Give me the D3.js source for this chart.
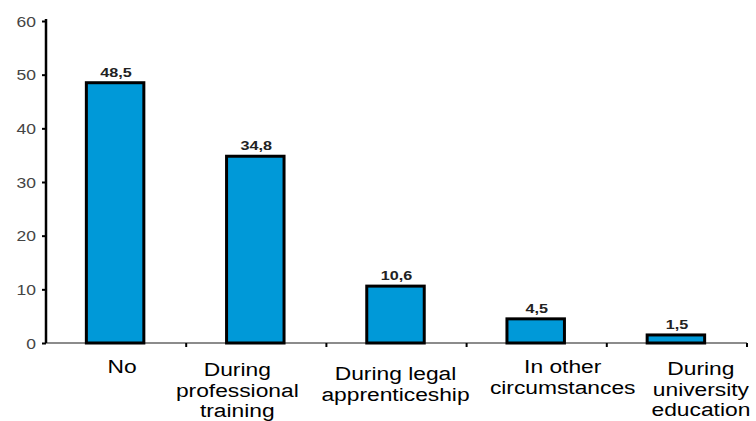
<!DOCTYPE html>
<html>
<head>
<meta charset="utf-8">
<script src="https://cdn.jsdelivr.net/npm/d3@7"></script>
<style>
  html, body { margin: 0; padding: 0; background: #fff; }
  svg { display: block; }
</style>
</head>
<body>
<svg id="chart" width="756" height="421"></svg>
<script>
// ---- data ----
const categories = ["No", "During professional training", "During legal apprenticeship", "In other circumstances", "During university education"];
const categoryLines = [
  ["No"],
  ["During", "professional", "training"],
  ["During legal", "apprenticeship"],
  ["In other", "circumstances"],
  ["During", "university", "education"]
];
const values = [48.5, 34.8, 10.6, 4.5, 1.5];
const yTicks = [0, 10, 20, 30, 40, 50, 60];

// ---- layout ----
const W = 756, H = 421;
const plotLeft = 46, plotRight = 747, yBottom = 343, yTop = 21;
const labelDx = [6, -19, -1, 26, 24];
const labelBase = [373, 376, 380, 373, 375];
const lineGap = 20.5;
const sx = 1.2; // horizontal stretch of the original picture's text

const svg = d3.select("#chart");

const x = d3.scaleBand().domain(categories).range([plotLeft, plotRight]).paddingInner(0).paddingOuter(0);
const y = d3.scaleLinear().domain([0, 60]).range([yBottom, yTop]);

const fmt = d3.formatLocale({decimal: ",", thousands: ".", grouping: [3], currency: ["", ""]}).format(".1f");

// baseline (category axis)
svg.append("line")
  .attr("x1", plotLeft).attr("x2", plotRight)
  .attr("y1", y(0)).attr("y2", y(0))
  .attr("stroke", "#666").attr("stroke-width", 1.5);

// category separator ticks
svg.selectAll("line.ctick")
  .data(categories)
  .join("line")
  .attr("class", "ctick")
  .attr("x1", d => x(d) + x.bandwidth())
  .attr("x2", d => x(d) + x.bandwidth())
  .attr("y1", y(0)).attr("y2", y(0) + 4)
  .attr("stroke", "#000").attr("stroke-width", 2);

// bars
const barFrac = 0.41;
svg.selectAll("rect.bar")
  .data(values)
  .join("rect")
  .attr("class", "bar")
  .attr("x", (d, i) => x(categories[i]) + x.bandwidth() * (0.5 - barFrac / 2) - 1)
  .attr("width", x.bandwidth() * barFrac)
  .attr("y", d => y(d))
  .attr("height", d => y(0) - y(d))
  .attr("fill", "#0099d8")
  .attr("stroke", "#000")
  .attr("stroke-width", 3);

// value labels
svg.selectAll("text.val")
  .data(values)
  .join("text")
  .attr("class", "val")
  .attr("transform", (d, i) => `translate(${x(categories[i]) + x.bandwidth() / 2},${y(d) - 6}) scale(${1.35},1)`)
  .attr("text-anchor", "middle")
  .attr("font-family", "Liberation Sans, Arial, sans-serif")
  .attr("font-weight", "bold")
  .attr("font-size", 12)
  .attr("fill", "#222")
  .text(d => fmt(d));

// y axis
const yAxis = d3.axisLeft(y).tickValues(yTicks).tickSize(4).tickPadding(7).tickFormat(d3.format("d"));
const gy = svg.append("g").attr("transform", `translate(${plotLeft},0)`).call(yAxis);
gy.select(".domain").attr("stroke", "#000").attr("stroke-width", 2.5)
  .attr("d", `M0,${yTop - 2}V${yBottom}`);
gy.selectAll(".tick line").attr("stroke", "#000").attr("stroke-width", 2);
gy.selectAll(".tick text")
  .attr("font-family", "Liberation Sans, Arial, sans-serif")
  .attr("font-size", 14)
  .attr("fill", "#444")
  .attr("dy", "0.36em")
  .each(function() {
    const t = d3.select(this);
    const xx = +t.attr("x");
    t.attr("x", null).attr("transform", `translate(${xx + 1},0) scale(1.25,1)`);
  });

// category labels
categoryLines.forEach((lines, i) => {
  const cx = x(categories[i]) + x.bandwidth() / 2 + labelDx[i];
  lines.forEach((ln, j) => {
    svg.append("text")
      .attr("transform", `translate(${cx},${labelBase[i] + j * lineGap}) scale(${sx},1)`)
      .attr("text-anchor", "middle")
      .attr("font-family", "Liberation Sans, Arial, sans-serif")
      .attr("font-size", 19)
      .attr("fill", "#000")
      .text(ln);
  });
});
</script>
</body>
</html>
